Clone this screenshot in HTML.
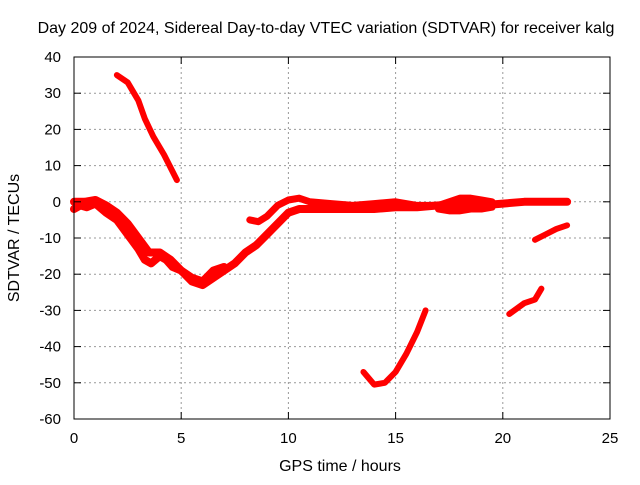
<!DOCTYPE html>
<html><head><meta charset="utf-8"><style>
body{margin:0;background:#fff;width:640px;height:480px;overflow:hidden}
text{font-family:"Liberation Sans",sans-serif;font-size:15px;fill:#000}
.big{font-size:16px}
</style></head><body>
<svg id="chart" width="640" height="480">
<text class="big" x="326" y="33" text-anchor="middle">Day 209 of 2024, Sidereal Day-to-day VTEC variation (SDTVAR) for receiver kalg</text>
<g id="grid"></g><g id="series"></g>
<rect x="74" y="57" width="536" height="362" fill="none" stroke="#000" stroke-width="1"/>
<g id="ticks"></g>
<text class="big" x="340" y="471" text-anchor="middle">GPS time / hours</text>
<text class="big" transform="translate(19,238) rotate(-90)" text-anchor="middle">SDTVAR / TECUs</text>
</svg>
<script>
const xTicks=[0,5,10,15,20,25];
const yTicks=[40,30,20,10,0,-10,-20,-30,-40,-50,-60];
const mainLowerH=[0,0.3,0.6,1,1.5,2,2.5,3,3.3,3.6,4,4.3,4.6,5,5.5,6,6.5,7,7.5,8,8.5,9,9.5,10,10.5,11,12,13,14,15,16,17,18,19,20,21,22,23];
const mainLowerV=[-2,-1,-1.5,-0.5,-3,-5,-9,-13,-16,-17,-15,-16,-18,-19,-22,-23,-21,-19,-17,-14,-12,-9,-6,-3,-2,-2,-2,-2,-2,-1.5,-1.5,-1,-1,-1,-0.5,0,0,0];
const mainUpperH=[0,0.5,1,1.5,2,2.5,3,3.5,4,4.5,5,5.5,6,6.5,7];
const mainUpperV=[0,0,0.5,-1,-3,-6,-10,-14,-14,-16,-19,-21,-22,-19,-18];
const branchH=[8.2,8.6,9,9.5,10,10.5,11,12,13,14,15,16,17,17.5,18,18.5,19,19.5];
const branchV=[-5,-5.5,-4,-1,0.5,1,0,-0.5,-1,-0.5,0,-1,-1,0,1,1,0.5,0];
const band2H=[17,17.5,18,18.5,19,19.5];
const band2V=[-2,-2.5,-2.5,-2,-2,-1.5];
const s2H=[2,2.5,3,3.3,3.7,4.2,4.8];
const s2V=[35,33,28,23,18,13,6];
const s3H=[13.5,14,14.5,15,15.5,16,16.4];
const s3V=[-47,-50.5,-50,-47,-42,-36,-30];
const s4H=[20.3,21,21.5,21.8];
const s4V=[-31,-28,-27,-24];
const s5H=[21.5,22,22.5,23];
const s5V=[-10.5,-9,-7.5,-6.5];
const X=h=>74+h*536/25, Y=v=>57+(40-v)*362/100;
const NS='http://www.w3.org/2000/svg';
const grid=document.getElementById('grid'),ticks=document.getElementById('ticks'),ser=document.getElementById('series');
function mk(tag,attrs,parent){const e=document.createElementNS(NS,tag);for(const k in attrs)e.setAttribute(k,attrs[k]);parent.appendChild(e);return e;}
xTicks.forEach(t=>{
 if(t>0&&t<25){const l=mk('line',{x1:X(t),x2:X(t),y1:57,y2:419,stroke:'#999','stroke-dasharray':'2,3'},grid);
 
 }
 mk('line',{x1:X(t),x2:X(t),y1:419,y2:412,stroke:'#000'},ticks);
 mk('line',{x1:X(t),x2:X(t),y1:57,y2:64,stroke:'#000'},ticks);
 const tx=mk('text',{x:X(t),y:443,'text-anchor':'middle'},ticks);tx.textContent=t;
 
 
});
yTicks.forEach(t=>{
 if(t<40&&t>-60){const l=mk('line',{x1:74,x2:610,y1:Y(t),y2:Y(t),stroke:'#999','stroke-dasharray':'2,3'},grid);
 
 }
 mk('line',{x1:74,x2:81,y1:Y(t),y2:Y(t),stroke:'#000'},ticks);
 mk('line',{x1:603,x2:610,y1:Y(t),y2:Y(t),stroke:'#000'},ticks);
 const tx=mk('text',{x:61,y:Y(t)+5,'text-anchor':'end'},ticks);tx.textContent=t;
 
 
});
function line(H,V,w,name){
 const p=mk('polyline',{points:H.map((h,i)=>X(h)+','+Y(V[i])).join(' '),fill:'none',stroke:'#f00','stroke-width':w,'stroke-linejoin':'round','stroke-linecap':'round'},ser);
 
 
}
line(mainLowerH,mainLowerV,8,'series-main-lower');
line(mainUpperH,mainUpperV,8,'series-main-upper');
line(branchH,branchV,7,'series-branch');
line(band2H,band2V,7,'series-band');
line(s2H,s2V,6,'series-early-high');
line(s3H,s3V,6,'series-low-arc');
line(s4H,s4V,6,'series-late-low');
line(s5H,s5V,6,'series-late-mid');
</script>
</body></html>
